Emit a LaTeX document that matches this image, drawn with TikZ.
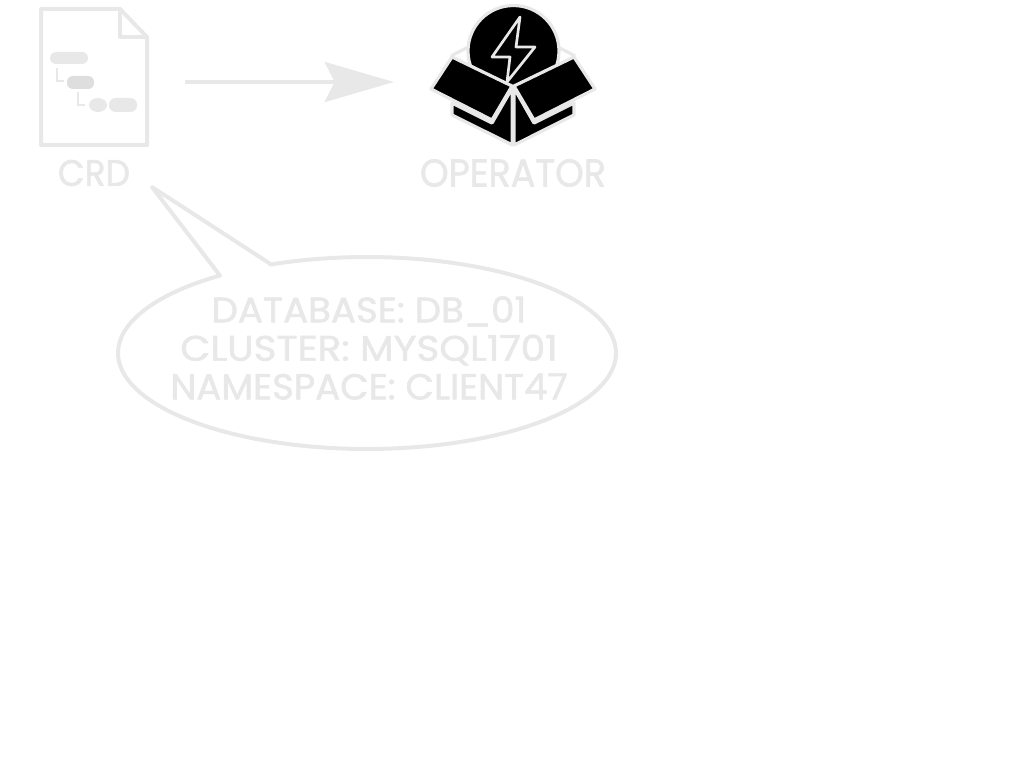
\documentclass[tikz,border=0pt]{standalone}
\usepackage{graphicx}
\usepackage{fontspec}
\setmainfont{Poppins}
\newfontfamily\wordfont{Poppins}[FakeBold=1.6]
\usetikzlibrary{arrows.meta}
\definecolor{pale}{HTML}{E8E8E8}
\definecolor{palemid}{HTML}{DEDEDE}
\newcommand{\fitline}[3]{\resizebox{#1pt}{#2pt}{\wordfont #3}}
\tikzset{
  x=0.75pt,y=-0.75pt,
  outline/.style={draw=pale,line width=3pt,line join=round,line cap=round},
  thin outline/.style={draw=pale,line width=1.2pt},
  pill/.style={fill=pale,rounded corners=4.4pt},
  black part/.style={fill=black,draw=pale,line width=2.4pt,line join=round},
  flow/.style={draw=pale,line width=3pt,-{Stealth[length=52pt,width=30pt,inset=7.5pt]}},
  word/.style={text=pale,inner sep=0pt,anchor=center},
}
\begin{document}
\begin{tikzpicture}
\useasboundingbox (0,0) rectangle (1024,763);
% document icon
\draw[outline] (41,9) -- (120,9) -- (147,37) -- (147,145) -- (41,145) -- cycle;
\draw[outline] (120,9) -- (120,37) -- (147,37);
\fill[pill] (50,52) rectangle (88,64);
\fill[pill,fill=palemid] (67,76) rectangle (94,89);
\fill[pale] (98,105) circle[x radius=9,y radius=7];
\fill[pill,rounded corners=5pt] (109,98) rectangle (137,112);
\draw[thin outline] (57,68) -- (57,81) -- (64,81);
\draw[thin outline] (78,92) -- (78,105) -- (85,105);
\node[word] (crd) at (94,173) {\fitline{54}{19.5}{CRD}};
% operator icon
\draw[pale,line width=2.4pt] (451,56) -- (470,46) (575,56) -- (556,46);
\fill[black,draw=pale,line width=2.4pt] (513.5,51) circle[radius=45.5];
\draw[pale,line width=2pt,line join=round] (520,17) -- (492,57) -- (510,57) -- (507,82) -- (535,47) -- (516,47) -- cycle;
\filldraw[black part] (452,103) -- (452,115) -- (512.3,145) -- (512.3,88) -- (492,123) -- cycle;
\filldraw[black part] (574,103) -- (574,115) -- (514.1,145) -- (514.1,88) -- (534,123) -- cycle;
\filldraw[black part] (452,57) -- (512,86) -- (492,120) -- (431,89) -- cycle;
\filldraw[black part] (574,57) -- (514,86) -- (534,120) -- (595,89) -- cycle;
\node[word] (operator) at (513,173) {\fitline{139.5}{20.5}{OPERATOR}};
% arrow
\coordinate (flowstart) at (185,82);
\coordinate (flowend) at (394,82);
\draw[flow] (flowstart) -- (flowend);
% callout
\draw[outline] (152,187) -- (269,263)
  -- plot[domain=247.2:593.8,samples=120] ({367+249*cos(\x)},{353+96*sin(\x)})
  -- cycle;
\node[word,align=center] (details) at (369,348) {%
  \fitline{236}{19.5}{DATABASE: DB\_01}\\[5pt]
  \fitline{283}{19.5}{CLUSTER: MYSQL1701}\\[5pt]
  \fitline{298}{19.5}{NAMESPACE: CLIENT47}};
\end{tikzpicture}
\end{document}
